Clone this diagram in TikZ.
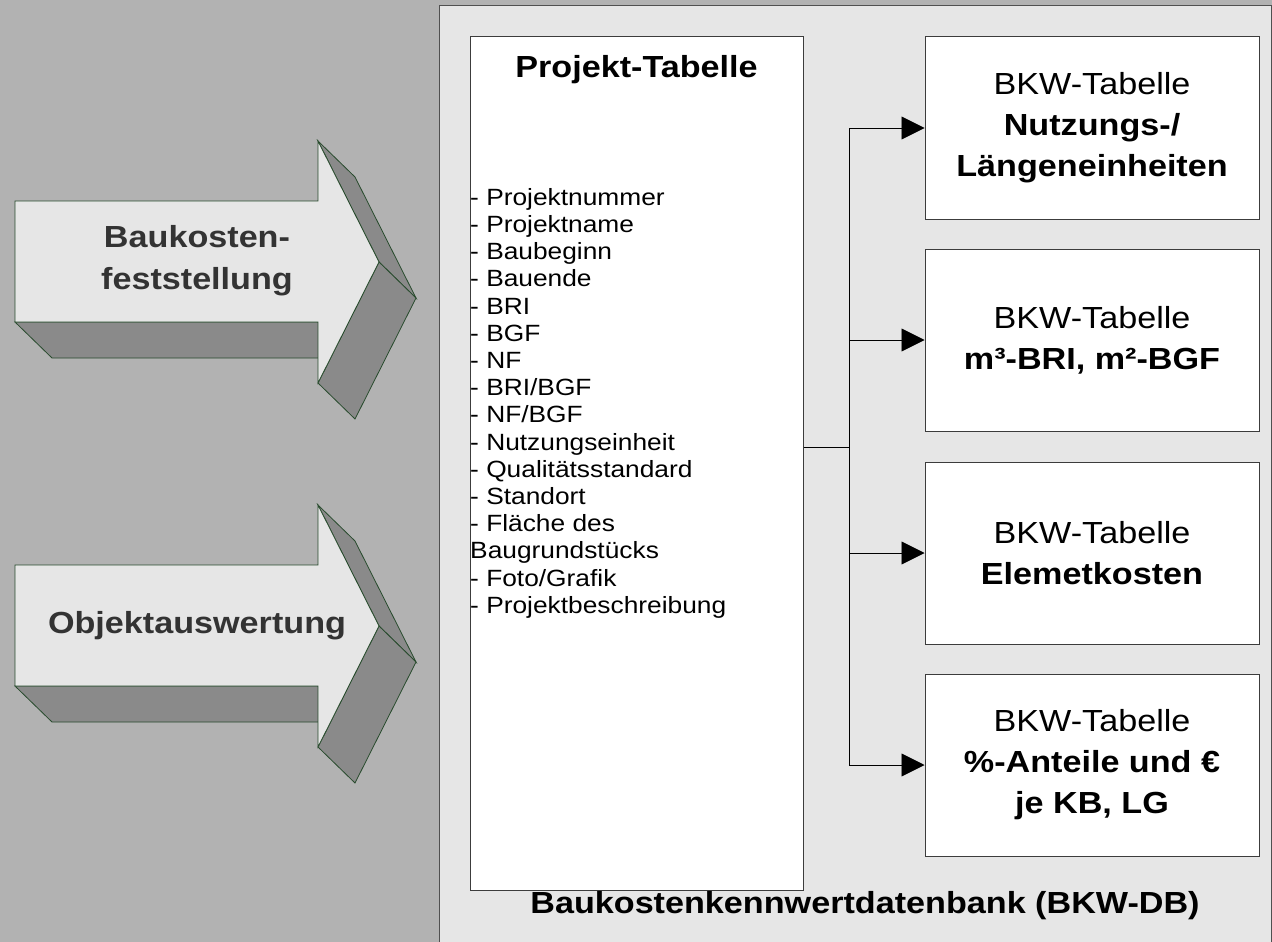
\documentclass[tikz,border=0pt]{standalone}
\usepackage{fontspec}
\setmainfont{Liberation Sans}[FakeStretch=1.12]
\usetikzlibrary{arrows.meta}

\definecolor{outerbg}{RGB}{178,178,178}
\definecolor{panelbg}{RGB}{230,230,230}
\definecolor{panelrule}{RGB}{80,80,80}
\definecolor{arrowface}{RGB}{230,230,230}
\definecolor{arrowside}{RGB}{138,138,138}
\definecolor{arrowrule}{RGB}{40,75,45}
\definecolor{arrowtext}{RGB}{51,51,51}
\definecolor{boxrule}{RGB}{60,60,60}

\tikzset{
  tablebox/.style={draw=boxrule, line width=1pt, fill=white, inner sep=0pt,
    minimum width=334pt, minimum height=182pt, align=center,
    font=\fontsize{30.5}{41}\selectfont},
  face/.style={fill=arrowface, draw=arrowrule, line width=0.8pt, line join=miter},
  side/.style={fill=arrowside, draw=arrowrule, line width=0.8pt, line join=miter},
  arrowlabel/.style={text=arrowtext, align=center,
    font=\fontsize{30.5}{42}\selectfont\bfseries},
  link/.style={draw=black, line width=0.9pt},
  feed/.style={link, -{Triangle[length=23pt,width=23pt]}}
}

% 3D block arrow: #1 = vertical offset
\newcommand{\blockarrow}[1]{%
  \begin{scope}[yshift=-#1pt]
    % extruded side faces
    \filldraw[side] (15,322) -- (52,358) -- (355,358) -- (318,322) -- cycle;
    \filldraw[side] (318,141) -- (355,177) -- (416,298) -- (379,262) -- cycle;
    \filldraw[side] (379,262) -- (416,298) -- (355,419) -- (318,383) -- cycle;
    % front face
    \filldraw[face] (15,201) -- (318,201) -- (318,141) -- (379,262)
      -- (318,383) -- (318,322) -- (15,322) -- cycle;
  \end{scope}}

\begin{document}
\begin{tikzpicture}[x=1pt, y=-1pt]
  \useasboundingbox (0,0) rectangle (1272,942);
  \fill[outerbg] (0,0) rectangle (1272,942);

  % database panel
  \filldraw[fill=panelbg, draw=panelrule, line width=1pt] (439,6) rectangle (1271,960);

  % input arrows
  \blockarrow{0}
  \blockarrow{364}
  \node[arrowlabel] (feststellung) at (197,261) {Baukosten-\\feststellung};
  \node[arrowlabel] (auswertung) at (197,626) {Objektauswertung};

  % project table
  \node[draw=boxrule, line width=1pt, fill=white, minimum width=333pt,
        minimum height=853pt, inner sep=0pt] (proj) at (636.5,463.5) {};
  \node[font=\fontsize{30.5}{36}\selectfont\bfseries] (projtitle) at (636.5,70) {Projekt-Tabelle};
  \node[anchor=north west, inner sep=0pt, align=left,
        font=\fontsize{23.5}{27.2}\selectfont] (projlist) at (470,188) {%
    - Projektnummer\\
    - Projektname\\
    - Baubeginn\\
    - Bauende\\
    - BRI\\
    - BGF\\
    - NF\\
    - BRI/BGF\\
    - NF/BGF\\
    - Nutzungseinheit\\
    - Qualitätsstandard\\
    - Standort\\
    - Fläche des\\
    Baugrundstücks\\
    - Foto/Grafik\\
    - Projektbeschreibung};

  % key figure tables
  \node[tablebox] (b1) at (1092,128) {BKW-Tabelle\\\textbf{Nutzungs-/}\\\textbf{Längeneinheiten}};
  \node[tablebox] (b2) at (1092,340) {BKW-Tabelle\\\textbf{m³-BRI, m²-BGF}};
  \node[tablebox] (b3) at (1092,553) {BKW-Tabelle\\\textbf{Elemetkosten}};
  \node[tablebox] (b4) at (1092,765) {BKW-Tabelle\\\textbf{\%-Anteile und €}\\\textbf{je KB, LG}};

  % distribution lines
  \coordinate (junction) at (849,447);
  \draw[link] (proj.east |- junction) -- (junction);
  \draw[link] (junction |- b1.west) -- (junction |- b4.west);
  \draw[feed] (junction |- b1.west) -- (b1.west);
  \draw[feed] (junction |- b2.west) -- (b2.west);
  \draw[feed] (junction |- b3.west) -- (b3.west);
  \draw[feed] (junction |- b4.west) -- (b4.west);

  % panel caption
  \node[font=\fontsize{30.5}{36}\selectfont\bfseries] (dbname) at (865,906)
    {Baukostenkennwertdatenbank (BKW-DB)};
\end{tikzpicture}
\end{document}
